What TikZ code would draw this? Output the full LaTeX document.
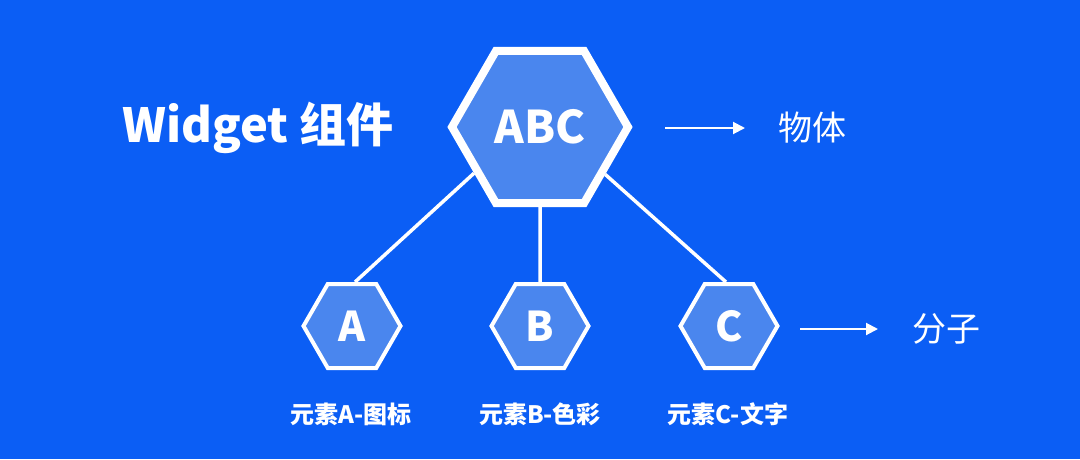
\documentclass[tikz,border=0pt]{standalone}
\usepackage{fontspec}
\setmainfont{Noto Sans CJK SC}
\usetikzlibrary{arrows.meta,shapes.geometric,positioning}

\definecolor{bgblue}{RGB}{11,94,245}
\definecolor{hexblue}{RGB}{74,134,238}

\begin{document}
\begin{tikzpicture}[x=1pt, y=-1pt,
            hexbig/.style = {regular polygon, regular polygon sides=6, draw=white, line width=8pt,
                fill=hexblue, minimum size=176pt, inner sep=0pt, text=white, font=\fontsize{45}{45}\bfseries},
            hexsmall/.style = {regular polygon, regular polygon sides=6, draw=white, line width=4pt,
                fill=hexblue, minimum size=97pt, inner sep=0pt, text=white, font=\fontsize{41}{41}\bfseries},
            caption/.style = {text=white, font=\fontsize{24}{24}\bfseries},
            level/.style = {text=white, font=\fontsize{34}{34}\selectfont},
            link/.style = {draw=white, line width=3.5pt},
            pointer/.style = {draw=white, line width=2pt, -{Triangle[length=12pt,width=12pt]}}]
            \fill [bgblue] (0,0) rectangle (1080,459);
            \useasboundingbox (0,0) rectangle (1080,459);

            \node [text=white, font=\fontsize{47}{47}\bfseries] (title) at (258,128) {Widget 组件};
            \node [hexbig] (abc) at (540,127) {ABC};
            \node [hexsmall] (a) at (352,326) {A};
            \node [hexsmall] (b) at (540,326) {B};
            \node [hexsmall] (c) at (729,326) {C};
            \node [caption] (capa) at (351,414) {元素A-图标};
            \node [caption] (capb) at (540,414) {元素B-色彩};
            \node [caption] (capc) at (728,414) {元素C-文字};

            \draw [link] (abc.215.6) -- (a.86);
            \draw [link] (abc.south) -- (b.north);
            \draw [link] (abc.324.4) -- (c.94);

            \coordinate (p1) at (665,128);
            \coordinate (p2) at (800,329);
            \node [level, right=110pt of p1] (mol) {物体};
            \node [level, right=109pt of p2] (part) {分子};
            \draw [pointer] (p1) -- ++(80,0);
            \draw [pointer] (p2) -- ++(78,0);
\end{tikzpicture}
\end{document}
